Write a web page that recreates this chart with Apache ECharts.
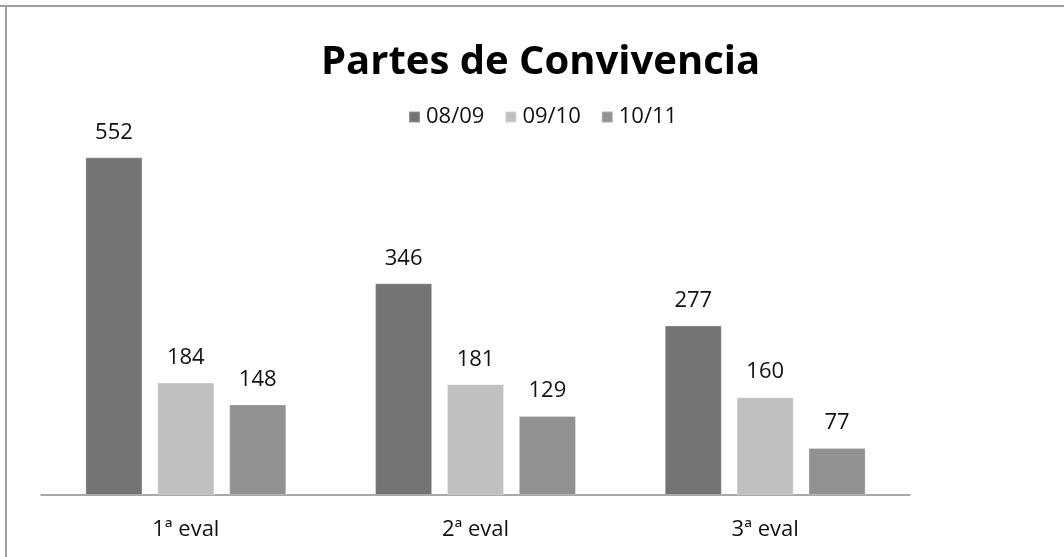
<!DOCTYPE html>
<html>
<head>
<meta charset="utf-8">
<script src="https://cdn.jsdelivr.net/npm/echarts@6/dist/echarts.min.js"></script>
<style>
  html, body { margin: 0; padding: 0; background: #fff; }
  #chart { width: 1064px; height: 557px; }
</style>
</head>
<body>
<div id="chart"></div>
<script>
const categories = ['1ª eval', '2ª eval', '3ª eval']
const seriesNames = ['08/09', '09/10', '10/11']
const values0809 = [552, 346, 277]
const values0910 = [184, 181, 160]
const values1011 = [148, 129, 77]

const colors = ['#747474', '#c0c0c0', '#919191']
const font = '"Open Sans", "Noto Sans", sans-serif'

const chart = echarts.init(document.getElementById('chart'))

const makeSeries = (name, data, i) => ({
  name: name,
  type: 'bar',
  data: data,
  barWidth: '19.7%',
  barGap: '26%',
  itemStyle: { color: colors[i], borderColor: 'rgba(255,255,255,0.25)', borderWidth: 1 },
  label: {
    show: true,
    position: 'top',
    distance: 14,
    color: '#111',
    fontSize: 22,
    fontFamily: font
  },
  animation: false
})

chart.setOption({
  animation: false,
  color: colors,
  title: {
    text: 'Partes de Convivencia',
    left: 316,
    top: 38,
    textStyle: { fontFamily: font, fontWeight: 'bold', fontSize: 40, color: '#000' }
  },
  legend: {
    data: seriesNames,
    top: 101,
    left: 403,
    itemWidth: 11,
    itemHeight: 11,
    itemGap: 20,
    icon: 'rect',
    textStyle: { fontFamily: font, fontSize: 22, color: '#111', padding: [0, 0, 0, 1] }
  },
  grid: { left: 41, right: 154, top: 128, bottom: 62 },
  xAxis: {
    type: 'category',
    data: categories,
    axisLine: { lineStyle: { color: '#8c8c8c', width: 1.5 } },
    axisTick: { show: false },
    axisLabel: { fontFamily: font, fontSize: 22, color: '#111', margin: 24 }
  },
  yAxis: {
    type: 'value',
    min: 0,
    max: 600,
    show: false,
    splitLine: { show: false }
  },
  graphic: [
    { type: 'line', shape: { x1: 0, y1: 6, x2: 1064, y2: 6 }, style: { stroke: '#a0a0a0', lineWidth: 2 } },
    { type: 'line', shape: { x1: 6, y1: 6, x2: 6, y2: 557 }, style: { stroke: '#a0a0a0', lineWidth: 2 } }
  ],
  series: [
    makeSeries(seriesNames[0], values0809, 0),
    makeSeries(seriesNames[1], values0910, 1),
    makeSeries(seriesNames[2], values1011, 2)
  ]
})
</script>
</body>
</html>
